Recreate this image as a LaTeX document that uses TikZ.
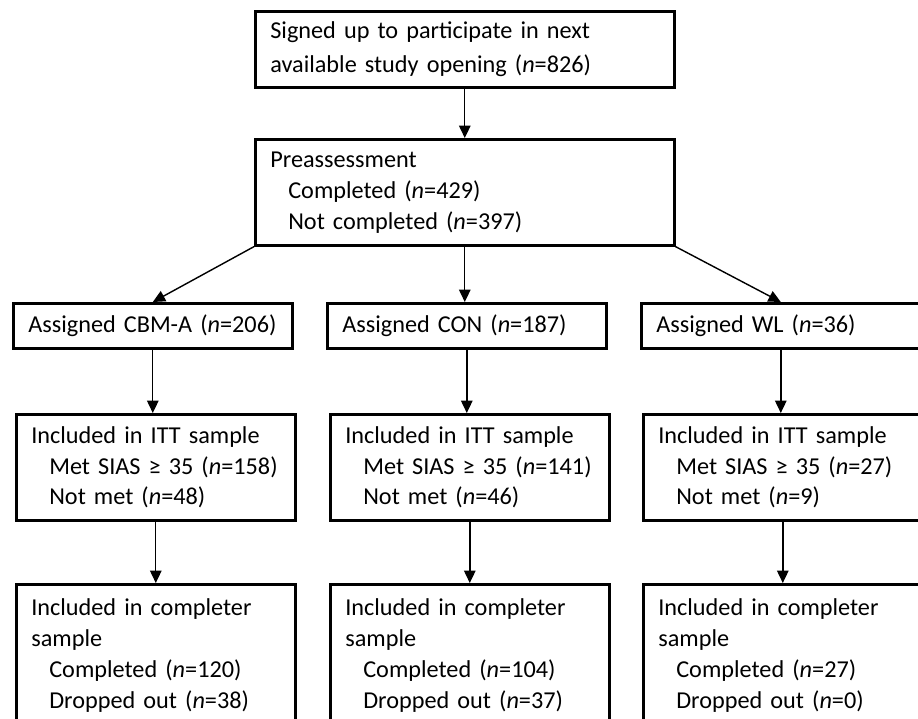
\documentclass[tikz,border=0pt]{standalone}
\usepackage{fontspec}
\setmainfont[WordSpace=0.8]{Carlito}
\usetikzlibrary{arrows.meta}

\begin{document}
\begin{tikzpicture}[x=0.02cm, y=-0.02cm, >={Triangle[length=7pt,width=6.5pt]}]
\useasboundingbox (0,0) rectangle (918,718);
\tikzstyle{box} = [draw, line width=1.5pt, anchor=north west, align=left, inner xsep=0.3cm, inner ysep=0pt, font=\fontsize{13.8}{17.6}\selectfont];
\tikzstyle{wide} = [box, text width=7.78cm, minimum height=1.52cm];
\tikzstyle{slim} = [box, text width=4.98cm];
\tikzstyle{flow} = [line width=0.8pt];
\newcommand{\nn}{\textit{n}}
\newcommand{\ind}{\hspace*{0.36cm}}
\node[wide] (signup) at (254, 10) {Signed up to participate in next\\[0.06cm]available study opening (\nn=826)};
\node[wide, minimum height=2.12cm] (pre) at (254, 138) {Preassessment\\\ind Completed (\nn=429)\\\ind Not completed (\nn=397)};
\draw[->, flow] (signup) -- (pre);
%
\node[slim, minimum height=0.9cm] (cbm) at (12, 302) {Assigned CBM-A (\nn=206)};
\node[slim, minimum height=0.9cm] (con) at (326, 302) {Assigned CON (\nn=187)};
\node[slim, minimum height=0.9cm] (wl) at (640, 302) {Assigned WL (\nn=36)};
\draw[->, flow] (pre.south west) -- (cbm.north);
\draw[->, flow] (pre.south) -- (pre.south |- con.north);
\draw[->, flow] (pre.south east) -- (wl.north);

\node[slim, minimum height=2.12cm] (cbmitt) at (15, 413) {Included in ITT sample\\\ind Met SIAS ≥ 35 (\nn=158)\\\ind Not met (\nn=48)};
\node[slim, minimum height=2.12cm] (conitt) at (329, 413) {Included in ITT sample\\\ind Met SIAS ≥ 35 (\nn=141)\\\ind Not met (\nn=46)};
\node[slim, minimum height=2.12cm] (wlitt) at (642, 413) {Included in ITT sample\\\ind Met SIAS ≥ 35 (\nn=27)\\\ind Not met (\nn=9)};
\draw[->, flow] (cbm) -- (cbm |- cbmitt.north);
\draw[->, flow] (con) -- (con |- conitt.north);
\draw[->, flow] (wl) -- (wl |- wlitt.north);

\node[slim, minimum height=2.84cm] (cbmcomp) at (15, 583) {Included in completer\\sample\\\ind Completed (\nn=120)\\\ind Dropped out (\nn=38)};
\node[slim, minimum height=2.84cm] (concomp) at (329, 583) {Included in completer\\sample\\\ind Completed (\nn=104)\\\ind Dropped out (\nn=37)};
\node[slim, minimum height=2.84cm] (wlcomp) at (642, 583) {Included in completer\\sample\\\ind Completed (\nn=27)\\\ind Dropped out (\nn=0)};
\draw[->, flow] (cbmitt) -- (cbmitt |- cbmcomp.north);
\draw[->, flow] (conitt) -- (conitt |- concomp.north);
\draw[->, flow] (wlitt) -- (wlitt |- wlcomp.north);
\end{tikzpicture}
\end{document}
